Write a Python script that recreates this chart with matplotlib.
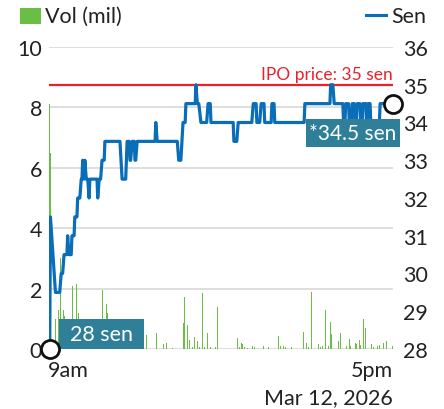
import matplotlib
matplotlib.use("Agg")
import matplotlib.pyplot as plt
from matplotlib.patches import Rectangle
from matplotlib.lines import Line2D

plt.rcParams['font.family'] = ['Lato', 'DejaVu Sans']

# (minutes after 9am, price in sen)
price_path = [(1, 28), (2, 31.5), (9, 29.5), (15, 29.5), (17, 30), (19, 30), (21, 30.5),
              (25, 30.5), (26, 31), (28, 30.5), (31, 30.5), (32, 31), (35, 31), (36, 31.5),
              (39, 31.5), (40, 32), (43, 32), (45, 32.5), (46, 32.5), (47, 33), (49, 32.5),
              (50, 33), (52, 32.5), (54, 32.5), (56, 32), (57, 32.5), (67, 32.5), (68, 32),
              (70, 32.5), (72, 32.5), (74, 33), (77, 33), (78, 33.5), (99, 33.5), (102, 32.5),
              (107, 32.5), (109, 33.5), (112, 33.5), (113, 33), (114, 33), (116, 33.5),
              (119, 33.5), (120, 33), (121, 33), (123, 33.5), (148, 33.5), (149, 34),
              (151, 33.5), (179, 33.5), (181, 33), (184, 33), (187, 34), (190, 34),
              (191, 34.5), (204, 34.5), (205, 35), (207, 34.5), (209, 34.5), (212, 34),
              (220, 34), (222, 34.5), (225, 34.5), (226, 34), (257, 34), (258, 33.5),
              (262, 33.5), (264, 34), (283, 34), (285, 34.5), (289, 34.5), (290, 34),
              (294, 34), (296, 34.5), (300, 34.5), (301, 34), (310, 34), (311, 34.5),
              (314, 34.5), (315, 34), (356, 34), (357, 34.5), (392, 34.5), (393, 35),
              (396, 35), (398, 34.5), (410, 34.5), (411, 34), (413, 34), (414, 34.5),
              (418, 34.5), (419, 34), (422, 34), (423, 34.5), (426, 34.5), (427, 34),
              (429, 34), (430, 34.5), (434, 34.5), (435, 34), (437, 34), (438, 34.5),
              (442, 34.5), (443, 34), (444, 34), (445, 34.5), (448, 34.5), (449, 34),
              (461, 34), (462, 34.5), (480, 34.5)]
price_min = [p[0] for p in price_path]
price_sen = [p[1] for p in price_path]

# (minutes after 9am, volume in million shares)
vol_bars = [(1, 8.1), (2, 6.5), (3, 4.6), (9, 1.0), (13, 1.3), (14, 1.45), (16, 3.0),
            (17, 4.9), (20, 1.3), (22, 1.1), (25, 1.15), (28, 2.4), (33, 2.1), (38, 2.15),
            (41, 1.2), (43, 3.8), (75, 1.95), (80, 1.5), (82, 1.2),
            (86, 0.05), (90, 0.06), (95, 0.04), (100, 0.05), (105, 0.05), (111, 0.06),
            (118, 0.04), (124, 0.05), (130, 0.05),
            (136, 0.45), (141, 0.1), (145, 0.05), (150, 0.52), (155, 0.05), (160, 0.15),
            (164, 0.2), (169, 0.08), (172, 0.04), (176, 0.06), (180, 0.05), (184, 0.05),
            (188, 0.85), (189, 1.72), (193, 0.8), (194, 0.25), (196, 0.3), (200, 0.05),
            (203, 0.4), (205, 0.18), (207, 0.25), (210, 0.05), (214, 1.85), (217, 0.05),
            (221, 0.53), (225, 0.05), (229, 0.4), (232, 0.05), (235, 1.4), (236, 0.65),
            (240, 0.05), (243, 0.1), (247, 0.1), (250, 0.15), (254, 0.05), (258, 0.04),
            (261, 0.43), (263, 0.35), (264, 0.35), (266, 0.05), (269, 0.2), (270, 0.15),
            (273, 0.05), (277, 0.04), (282, 0.1), (284, 0.1), (287, 0.05), (290, 0.95),
            (293, 0.05), (297, 0.13), (299, 0.1), (303, 0.3), (306, 0.05), (310, 0.04),
            (314, 0.05), (318, 0.23), (320, 0.43), (321, 0.33), (323, 0.1), (327, 0.1),
            (330, 0.05), (332, 0.1), (335, 0.05), (338, 0.05), (343, 0.1), (346, 0.05),
            (350, 0.1), (353, 0.05), (355, 0.55), (356, 0.73), (359, 0.2), (362, 0.08),
            (366, 1.9), (367, 0.2), (371, 0.1), (374, 0.05), (376, 0.15), (379, 0.05),
            (382, 0.1), (386, 1.3), (388, 0.05), (390, 0.1), (393, 0.9), (394, 0.5),
            (396, 0.1), (399, 0.05), (403, 0.5), (404, 0.25), (406, 1.0), (407, 0.53),
            (410, 0.12), (413, 0.1), (415, 0.1), (417, 0.05), (419, 0.33), (421, 0.1),
            (424, 0.05), (427, 1.1), (428, 0.2), (429, 0.15), (431, 0.05), (433, 0.3),
            (435, 0.13), (437, 0.05), (439, 1.0), (441, 0.6), (442, 0.7), (445, 0.05),
            (448, 0.1), (450, 0.15), (453, 0.05), (456, 0.13), (458, 0.1), (461, 0.13),
            (463, 0.73), (466, 0.83), (467, 0.2), (469, 1.95), (471, 0.27), (473, 0.12),
            (476, 0.13), (479, 0.1)]
vol_min = [v[0] for v in vol_bars]
vol_mil = [v[1] for v in vol_bars]

ipo_price = 35
last_price = 34.5
low_price = 28

green = '#6cbd45'
blue = '#0a6db8'
red = '#e8212b'
teal = '#2f7f98'
txt = '#222222'

fig = plt.figure(figsize=(4.44, 4.10), dpi=100)
W, H = 444, 410
ax = fig.add_axes([49 / W, 1 - 350 / H, 344 / W, 302 / H])
ax2 = ax.twinx()

ax.bar(vol_min, vol_mil, width=0.8, color=green, zorder=2)
ax.set_ylim(0, 10)
ax.set_xlim(0, 480)
ax.set_yticks([0, 2, 4, 6, 8, 10])
ax.grid(axis='y', color='#d4d4d4', lw=1.1, zorder=0)
ax.set_axisbelow(True)
ax.set_xticks([])
ax.tick_params(axis='y', length=0, pad=5, labelsize=15.5, labelcolor=txt)

ax2.set_ylim(28, 36)
ax2.set_yticks(range(28, 37))
ax2.tick_params(axis='y', length=0, pad=7, labelsize=15.5, labelcolor=txt)
for a in (ax, ax2):
    for s in a.spines.values():
        s.set_visible(False)

ax2.axhline(ipo_price, color=red, lw=1.6, zorder=3)
ax2.text(480, ipo_price + 0.08, 'IPO price: 35 sen', color=red, fontsize=12.5,
         ha='right', va='bottom')
ax2.plot(price_min, price_sen, color=blue, lw=2.3, zorder=4)

# value labels in teal boxes
ax2.add_patch(Rectangle((14, 28.0), 118, 0.8, fc=teal, ec='none', zorder=5))
ax2.text(73, 28.4, '28 sen', color='white', fontsize=15.5, ha='center', va='center',
         zorder=6)
ax2.add_patch(Rectangle((358, 33.36), 132, 0.74, fc=teal, ec='none', zorder=5,
                        clip_on=False))
ax2.text(424, 33.73, '*34.5 sen', color='white', fontsize=15, ha='center', va='center',
         zorder=6, clip_on=False)

ax2.plot([price_min[0]], [low_price], 'o', ms=13, mfc='white', mec='#111111', mew=2,
         zorder=7, clip_on=False)
ax2.plot([price_min[-1]], [last_price], 'o', ms=13, mfc='white', mec='#111111', mew=2,
         zorder=7, clip_on=False)

# x labels
ax.text(-1, -0.035, '9am', transform=ax.get_xaxis_transform(), ha='left', va='top',
        fontsize=15.5, color=txt)
ax.text(480, -0.035, '5pm', transform=ax.get_xaxis_transform(), ha='right', va='top',
        fontsize=15.5, color=txt)
ax.text(480, -0.125, 'Mar 12, 2026', transform=ax.get_xaxis_transform(), ha='right',
        va='top', fontsize=15.5, color=txt)

# legend
fig.patches.append(Rectangle((20 / W, 1 - 25 / H), 21 / W, 16 / H, fc=green, ec='none',
                             transform=fig.transFigure))
fig.text(45 / W, 1 - 17 / H, 'Vol (mil)', fontsize=15.5, color=txt, va='center')
fig.lines.append(Line2D([366 / W, 386 / W], [1 - 16 / H, 1 - 16 / H], color=blue, lw=2.2,
                        transform=fig.transFigure))
fig.text(426 / W, 1 - 17 / H, 'Sen', fontsize=15.5, color=txt, va='center', ha='right')

fig.savefig('out.png', dpi=100)
